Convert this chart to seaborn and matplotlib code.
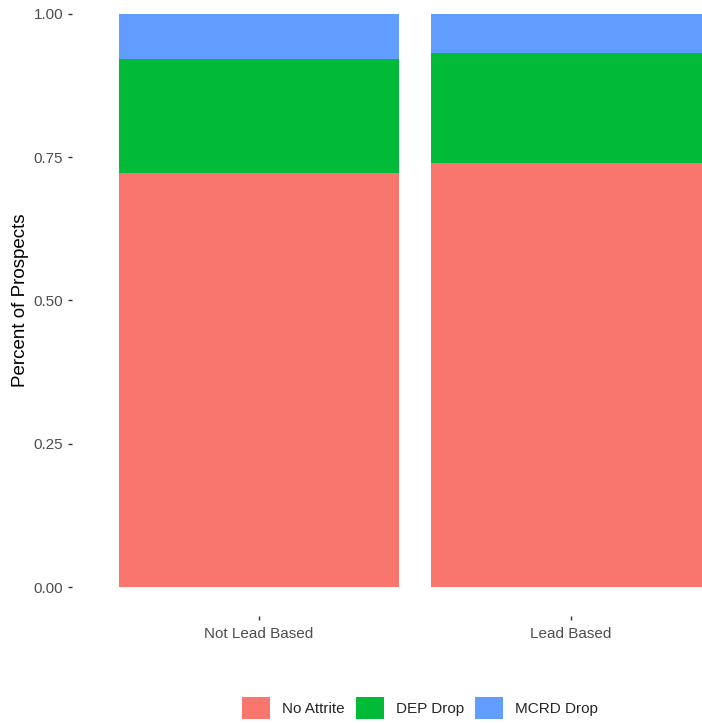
import numpy as np
import matplotlib
matplotlib.use("Agg")
import matplotlib.pyplot as plt
from matplotlib.patches import Patch
import seaborn as sns

# data
groups = ["Not Lead Based", "Lead Based"]
statuses = ["No Attrite", "DEP Drop", "MCRD Drop"]
no_attrite = [0.723, 0.740]
dep_drop = [0.198, 0.191]
mcrd_drop = [0.079, 0.069]

colors = ["#F8766D", "#00BA38", "#619CFF"]

sns.set_style("white")
plt.rcParams["font.family"] = ["Liberation Sans", "DejaVu Sans"]

fig = plt.figure(figsize=(7.02, 7.23), dpi=100)
ax = fig.add_axes([0.1023, 0.1484, 0.9775, 0.8723])

# stacked bars: draw cumulative totals from the top layer down
layers = np.array([no_attrite, dep_drop, mcrd_drop])
cum = layers.cumsum(axis=0)
for i in range(len(statuses) - 1, -1, -1):
    sns.barplot(x=groups, y=cum[i], color=colors[i], saturation=1,
                width=0.9, ax=ax, linewidth=0)

ax.set_xlim(-0.6, 1.6)
ax.set_ylim(-0.05, 1.05)
ax.set_yticks([0, 0.25, 0.5, 0.75, 1.0])
ax.set_yticklabels(["0.00", "0.25", "0.50", "0.75", "1.00"])
for s in ax.spines.values():
    s.set_visible(False)
ax.grid(False)
ax.tick_params(axis="both", left=True, bottom=True, length=3.2, width=1,
               color="#333333", labelcolor="#4D4D4D", labelsize=11, pad=3)
ax.tick_params(axis="x", pad=5)
ax.set_xlabel("")
ax.set_ylabel("Percent of Prospects", fontsize=13.5, color="black")
ax.yaxis.set_label_coords(-0.063, 0.5)

handles = [Patch(facecolor=c, edgecolor="none") for c in colors]
fig.legend(handles, statuses, loc="center", ncol=3,
           bbox_to_anchor=(420 / 702, 1 - 708 / 723), frameon=False,
           fontsize=11, handlelength=1.83, handleheight=1.83,
           handletextpad=0.78, columnspacing=0.72)

fig.savefig("out.png", dpi=100)
